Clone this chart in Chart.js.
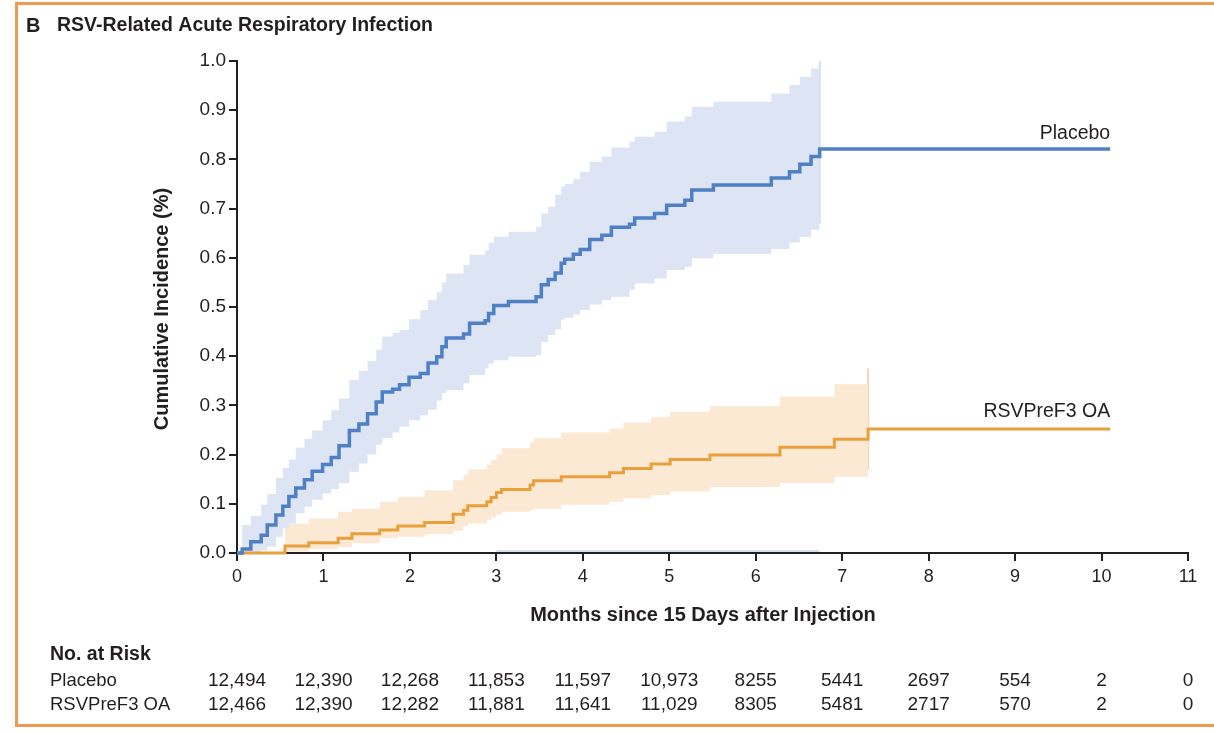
<!DOCTYPE html>
<html>
<head>
<meta charset="utf-8">
<title>RSV-Related Acute Respiratory Infection</title>
<script src="https://cdn.jsdelivr.net/npm/chart.js@4.4.0/dist/chart.umd.min.js"></script>
<style>
    html, body { margin: 0; padding: 0; background: #fff; }
    #wrap { position: relative; width: 1214px; height: 733px; overflow: hidden; }
    #frame { position: absolute; left: 15px; top: 2px; width: 1240px; height: 725px;
             border: 3px solid #EE9A52; box-sizing: border-box; }
    canvas { position: absolute; left: 0; top: 0; }
</style>
</head>
<body>
<div id="wrap">
    <div id="frame"></div>
    <canvas id="kmChart" width="1214" height="733"></canvas>
</div>
<script>
// months since 15 days after injection, tick labels
let monthTicks = [0, 1, 2, 3, 4, 5, 6, 7, 8, 9, 10, 11];

// Placebo: step times, estimate, 95% band (band ends at 6.74)
let placeboT = [0, 0.06, 0.16, 0.28, 0.35, 0.45, 0.53, 0.60, 0.68, 0.78, 0.87, 0.99, 1.09, 1.18, 1.30, 1.41,
    1.51, 1.61, 1.68, 1.80, 1.88, 1.99, 2.12, 2.21, 2.31, 2.37, 2.42, 2.62, 2.69, 2.87, 2.91, 2.97, 3.14,
    3.46, 3.52, 3.60, 3.68, 3.75, 3.79, 3.89, 3.97, 4.08, 4.22, 4.33, 4.54, 4.60, 4.83, 4.97, 5.18, 5.26,
    5.51, 6.18, 6.39, 6.51, 6.64, 6.74, 10.1];
let placeboEst = [0, 0.008, 0.023, 0.036, 0.057, 0.077, 0.095, 0.115, 0.132, 0.149, 0.166, 0.180, 0.194,
    0.218, 0.249, 0.262, 0.283, 0.307, 0.327, 0.333, 0.342, 0.357, 0.365, 0.386, 0.399, 0.419, 0.437, 0.445,
    0.467, 0.472, 0.487, 0.503, 0.511, 0.521, 0.545, 0.556, 0.569, 0.589, 0.597, 0.607, 0.617, 0.637, 0.646,
    0.662, 0.668, 0.681, 0.690, 0.707, 0.717, 0.738, 0.748, 0.762, 0.775, 0.790, 0.806, 0.821, 0.821];
let placeboHi = [0, 0.057, 0.075, 0.098, 0.12, 0.153, 0.173, 0.19, 0.214, 0.232, 0.249, 0.27, 0.29, 0.314,
    0.352, 0.37, 0.39, 0.413, 0.44, 0.447, 0.453, 0.475, 0.494, 0.514, 0.53, 0.55, 0.568, 0.585, 0.606, 0.615,
    0.63, 0.643, 0.653, 0.663, 0.69, 0.704, 0.728, 0.745, 0.75, 0.76, 0.775, 0.795, 0.806, 0.824, 0.836,
    0.846, 0.856, 0.877, 0.887, 0.907, 0.917, 0.934, 0.951, 0.968, 0.985, 1.0];
let placeboLo = [0, 0, 0, 0.005, 0.013, 0.033, 0.05, 0.06, 0.081, 0.094, 0.108, 0.121, 0.13, 0.142, 0.165,
    0.182, 0.2, 0.22, 0.233, 0.245, 0.257, 0.27, 0.28, 0.291, 0.31, 0.325, 0.331, 0.345, 0.362, 0.375, 0.385,
    0.392, 0.399, 0.402, 0.429, 0.443, 0.455, 0.474, 0.478, 0.485, 0.494, 0.505, 0.514, 0.521, 0.535, 0.548,
    0.558, 0.575, 0.582, 0.599, 0.608, 0.618, 0.631, 0.643, 0.657, 0.670];
// faint line lying on the x axis
let placeboFloorT = [3.0, 6.74];
let placeboFloorY = [0.004, 0.004];

// RSVPreF3 OA (band ends at 7.30)
let vaccineT = [0, 0.555, 0.83, 1.17, 1.33, 1.65, 1.86, 2.17, 2.50, 2.62, 2.67, 2.89, 2.94, 3.00, 3.06,
    3.39, 3.43, 3.75, 4.31, 4.47, 4.79, 5.01, 5.47, 6.28, 6.91, 7.30, 10.1];
let vaccineEst = [0, 0.014, 0.021, 0.030, 0.039, 0.047, 0.055, 0.062, 0.079, 0.087, 0.096, 0.104, 0.113,
    0.123, 0.129, 0.138, 0.147, 0.155, 0.163, 0.172, 0.181, 0.190, 0.199, 0.215, 0.231, 0.252, 0.252];
let vaccineHi = [0, 0.060, 0.070, 0.084, 0.090, 0.104, 0.114, 0.127, 0.148, 0.158, 0.170, 0.180, 0.189,
    0.200, 0.213, 0.225, 0.233, 0.245, 0.253, 0.265, 0.276, 0.287, 0.299, 0.318, 0.343, 0.343];
let vaccineLo = [0, 0.003, 0.008, 0.012, 0.020, 0.030, 0.033, 0.038, 0.045, 0.055, 0.060, 0.067, 0.072,
    0.078, 0.084, 0.087, 0.090, 0.098, 0.104, 0.111, 0.118, 0.125, 0.134, 0.142, 0.155, 0.155];
let vaccineEdge = [0.169, 0.375];

// numbers at risk
let riskPlacebo = ["12,494", "12,390", "12,268", "11,853", "11,597", "10,973", "8255", "5441", "2697", "554", "2", "0"];
let riskVaccine = ["12,466", "12,390", "12,282", "11,881", "11,641", "11,029", "8305", "5481", "2717", "570", "2", "0"];

const FONT = "'Liberation Sans', Arial, sans-serif";
const INK = "#231F20";
const BLUE = "#4F7FC5";
const ORANGE = "#E8A03C";

function pts(t, v) {
    return v.map((y, i) => ({ x: t[i], y: y }));
}

let lastBand = vaccineHi.length - 1;

let texts = {
    id: "texts",
    afterDraw(chart) {
        const ctx = chart.ctx;
        const xs = chart.scales.x;
        const ys = chart.scales.y;
        ctx.save();
        ctx.fillStyle = INK;
        ctx.textBaseline = "middle";

        ctx.textAlign = "left";
        ctx.font = "bold 20px " + FONT;
        ctx.fillText("B", 26, 26);
        ctx.font = "bold 19.5px " + FONT;
        ctx.fillText("RSV-Related Acute Respiratory Infection", 57, 26);

        // axis titles
        ctx.font = "bold 20px " + FONT;
        ctx.textAlign = "center";
        ctx.fillText("Months since 15 Days after Injection", 703, 615);
        ctx.save();
        ctx.translate(162, 309);
        ctx.rotate(-Math.PI / 2);
        ctx.fillText("Cumulative Incidence (%)", 0, 0);
        ctx.restore();

        // curve labels
        ctx.font = "19.5px " + FONT;
        ctx.textAlign = "right";
        let xEnd = xs.getPixelForValue(placeboT[placeboT.length - 1]);
        ctx.fillText("Placebo", xEnd, ys.getPixelForValue(placeboEst[placeboEst.length - 1]) - 15);
        ctx.fillText("RSVPreF3 OA", xEnd, ys.getPixelForValue(vaccineEst[vaccineEst.length - 1]) - 17);

        // no. at risk table
        ctx.textAlign = "left";
        ctx.font = "bold 19.5px " + FONT;
        ctx.fillText("No. at Risk", 50, 655);
        ctx.font = "18.5px " + FONT;
        ctx.fillText("Placebo", 50, 681);
        ctx.fillText("RSVPreF3 OA", 50, 705);
        ctx.textAlign = "center";
        ctx.font = "19px " + FONT;
        monthTicks.forEach((m, i) => {
            let x = xs.getPixelForValue(m);
            ctx.fillText(riskPlacebo[i], x, 681);
            ctx.fillText(riskVaccine[i], x, 705);
        });
        ctx.restore();
    },
};

let chart = new Chart("kmChart", {
    type: "line",
    data: {
        datasets: [
            {
                label: "Placebo",
                data: pts(placeboT, placeboEst),
                borderColor: BLUE,
                borderWidth: 3.5,
                stepped: true,
                pointRadius: 0,
                fill: false,
            },
            {
                label: "RSVPreF3 OA",
                data: pts(vaccineT, vaccineEst),
                borderColor: ORANGE,
                borderWidth: 3,
                stepped: true,
                pointRadius: 0,
                fill: false,
            },
            {
                label: "placebo upper",
                data: pts(placeboT, placeboHi),
                borderColor: "rgba(0,0,0,0)",
                borderWidth: 0,
                backgroundColor: "#DDE4F3",
                stepped: true,
                pointRadius: 0,
                fill: 3,
            },
            {
                label: "placebo lower",
                data: pts(placeboT, placeboLo),
                borderColor: "rgba(0,0,0,0)",
                borderWidth: 0,
                stepped: true,
                pointRadius: 0,
                fill: false,
            },
            {
                label: "vaccine upper",
                data: pts(vaccineT, vaccineHi),
                borderColor: "rgba(0,0,0,0)",
                borderWidth: 0,
                backgroundColor: "#FBE9D4",
                stepped: true,
                pointRadius: 0,
                fill: 5,
            },
            {
                label: "vaccine lower",
                data: pts(vaccineT, vaccineLo),
                borderColor: "rgba(0,0,0,0)",
                borderWidth: 0,
                stepped: true,
                pointRadius: 0,
                fill: false,
            },
            {
                label: "vaccine band edge",
                data: vaccineEdge.map((y) => ({ x: vaccineT[lastBand], y: y })),
                borderColor: "#F8CFC4",
                borderWidth: 2,
                pointRadius: 0,
                fill: false,
            },
            {
                label: "placebo band edge",
                data: [placeboLo[placeboLo.length - 1], placeboHi[placeboHi.length - 1]].map((y) => ({
                    x: placeboT[placeboHi.length - 1],
                    y: y,
                })),
                borderColor: "#D3DCF0",
                borderWidth: 2,
                pointRadius: 0,
                fill: false,
            },
            {
                label: "placebo floor",
                data: pts(placeboFloorT, placeboFloorY),
                borderColor: "#D5DDF0",
                borderWidth: 2,
                pointRadius: 0,
                fill: false,
            },
        ],
    },
    options: {
        responsive: false,
        animation: false,
        devicePixelRatio: 1,
        layout: { padding: { left: 177, right: 26, top: 61, bottom: 140 } },
        plugins: {
            legend: { display: false },
            title: { display: false },
            tooltip: { enabled: false },
        },
        elements: { line: { tension: 0 } },
        datasets: { line: { clip: 6 } },
        scales: {
            x: {
                type: "linear",
                min: 0,
                max: 11,
                afterFit(s) { s.height = 40; },
                ticks: {
                    stepSize: 1,
                    color: INK,
                    padding: 5,
                    font: { family: FONT, size: 18 },
                },
                grid: { drawOnChartArea: false, drawTicks: true, tickLength: 8, color: INK, lineWidth: 2 },
                border: { color: INK, width: 2 },
            },
            y: {
                min: 0,
                max: 1,
                afterFit(s) { s.width = 60; },
                ticks: {
                    stepSize: 0.1,
                    color: INK,
                    padding: 3,
                    font: { family: FONT, size: 19 },
                    callback: (v) => v.toFixed(1),
                },
                grid: { drawOnChartArea: false, drawTicks: true, tickLength: 8, color: INK, lineWidth: 2 },
                border: { color: INK, width: 2 },
            },
        },
    },
    plugins: [texts],
});
</script>
</body>
</html>
